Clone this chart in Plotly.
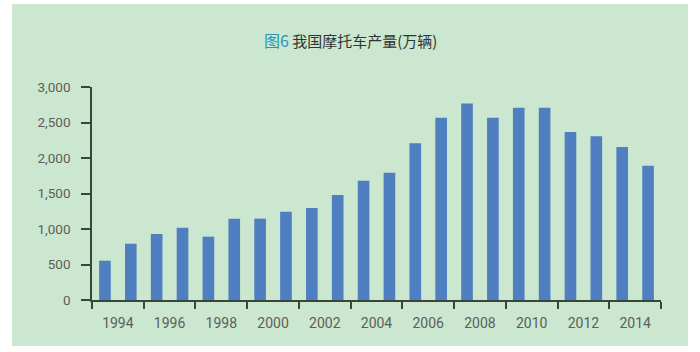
import plotly.graph_objects as go

# Data (万辆)
bar_index = list(range(22))
production = [554, 793, 930, 1019, 892, 1146, 1146, 1244, 1296, 1479, 1681,
              1794, 2206, 2568, 2766, 2568, 2709, 2709, 2366, 2305, 2155, 1890]
year_labels = ["1994", "1996", "1998", "2000", "2002", "2004",
               "2006", "2008", "2010", "2012", "2014"]
label_pos = [0.5 + 2 * i for i in range(len(year_labels))]
y_ticks = [0, 500, 1000, 1500, 2000, 2500, 3000]
y_text = ["0", "500", "1,000", "1,500", "2,000", "2,500", "3,000"]

GREEN = "#cbe7cf"
AXIS = "#3a463a"
TXT = "#5a605a"

fig = go.Figure()
fig.add_trace(go.Bar(
    x=bar_index, y=production, width=0.45,
    marker=dict(color="#4f7fc0", line=dict(width=0)),
    hoverinfo="y",
))

L, R, T, B = 92, 39, 87, 52
W, H = 700, 352
pw, ph = W - L - R, H - T - B

def px_x(p):
    return (p - L) / pw

def px_y(p):
    return (H - B - p) / ph

fig.add_shape(type="rect", xref="paper", yref="paper",
              x0=px_x(12), x1=px_x(688), y0=px_y(346), y1=px_y(4),
              fillcolor=GREEN, line=dict(width=0), layer="below")

fig.add_annotation(
    text="<span style='color:#2b93b8;font-size:16px'>图6</span> 我国摩托车产量(万辆)",
    xref="paper", yref="paper", x=px_x(350), y=px_y(40),
    xanchor="center", yanchor="middle", showarrow=False,
    font=dict(family="Noto Sans CJK SC", size=15, color="#333333"),
)

fig.update_layout(
    width=W, height=H,
    margin=dict(l=L, r=R, t=T, b=B, pad=0),
    paper_bgcolor="white", plot_bgcolor=GREEN,
    showlegend=False,
    font=dict(family="Roboto", size=13, color=TXT),
    xaxis=dict(
        range=[-0.5, 21.5], showgrid=False, zeroline=False,
        showline=True, linecolor=AXIS, linewidth=1.5,
        tickmode="array", tickvals=label_pos, ticktext=year_labels,
        ticks="outside", ticklen=0, tickcolor=AXIS,
        ticklabelstandoff=9,
        tickfont=dict(family="Roboto", size=14, color=TXT),
        minor=dict(tickmode="linear", tick0=-0.5, dtick=2, ticks="outside",
                   ticklen=7, tickwidth=1.5, tickcolor=AXIS, showgrid=False),
        fixedrange=True,
    ),
    yaxis=dict(
        range=[0, 3000], showgrid=False, zeroline=False,
        showline=True, linecolor=AXIS, linewidth=1.5,
        tickmode="array", tickvals=y_ticks, ticktext=y_text,
        ticks="outside", ticklen=9, tickwidth=1.5, tickcolor=AXIS,
        ticklabelstandoff=8,
        tickfont=dict(family="Roboto", size=13.5, color=TXT),
        fixedrange=True,
    ),
)

fig.write_html("out.html")
